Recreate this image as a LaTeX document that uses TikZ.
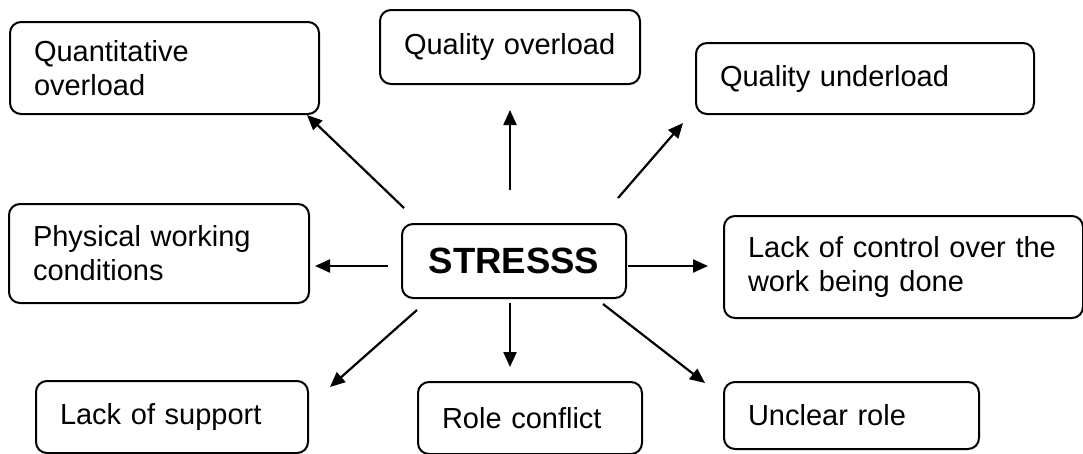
\documentclass[tikz,border=0pt]{standalone}
\usepackage{fontspec}
\setmainfont{Liberation Sans}
\usepackage{tikz}
\usetikzlibrary{arrows.meta,positioning}

\tikzset{
  cause/.style={draw, line width=2pt, rounded corners=11pt, anchor=north west,
    align=left, inner xsep=24pt, inner ysep=0pt,
    font=\fontsize{29}{34}\selectfont},
  stressbox/.style={draw, line width=2pt, rounded corners=11pt, anchor=north west,
    align=center, inner sep=0pt, minimum width=224pt, minimum height=74pt,
    font=\fontsize{36.5}{40}\selectfont\bfseries},
  push/.style={line width=2.2pt, -{Triangle[length=15pt,width=13pt]}}
}

\begin{document}
\begin{tikzpicture}[x=1pt, y=-1pt]
\useasboundingbox (0,0) rectangle (1083,453);

%centre
\node[stressbox] (stress) at (401,223) {STRESSS};

%top row
\node[cause, text width=261pt, minimum height=92pt] (quant) at (9,21) {Quantitative\\overload};
\node[cause, text width=212pt, minimum height=74pt] (qover) at (379,9) {Quality overload};
\node[cause, text width=290pt, minimum height=71pt] (qunder) at (695,42) {Quality underload};

%middle row
\node[cause, text width=252pt, minimum height=99pt] (phys) at (8,203) {Physical working\\conditions};
\node[cause, text width=311pt, minimum height=102pt] (lackctrl) at (723,215) {Lack of control over the\\work being done};

%bottom row
\node[cause, text width=224pt, minimum height=72pt] (support) at (35,380) {Lack of support};
\node[cause, text width=176pt, minimum height=72pt] (role) at (417,381) {Role conflict};
\node[cause, text width=207pt, minimum height=67pt] (unclear) at (723,381) {Unclear role};

%arrow ends
\coordinate (t1) at (404,208); \coordinate (h1) at (307,115);
\coordinate (t2) at (510,190); \coordinate (h2) at (510,110);
\coordinate (t3) at (618,198); \coordinate (h3) at (683,123);
\coordinate (t4) at (388,266); \coordinate (h4) at (315,266);
\coordinate (t5) at (628,266); \coordinate (h5) at (708,266);
\coordinate (t6) at (417,310); \coordinate (h6) at (330,387);
\coordinate (t7) at (510,303); \coordinate (h7) at (510,367);
\coordinate (t8) at (603,304); \coordinate (h8) at (705,383);

%arrows
\foreach \i in {1,...,8}
  \draw[push] (t\i) -- (h\i);

\end{tikzpicture}
\end{document}
